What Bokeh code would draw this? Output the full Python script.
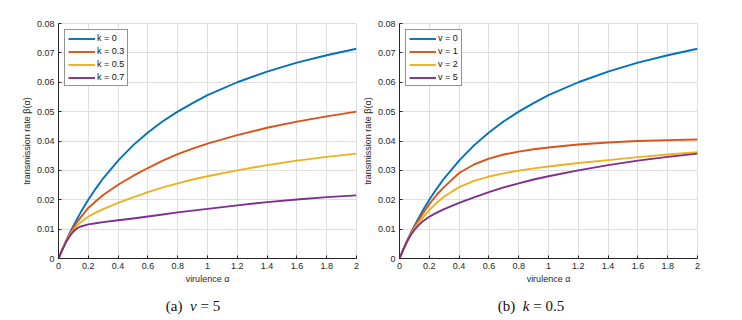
from bokeh.plotting import figure
from bokeh.models import Range1d, Legend, LegendItem, FixedTicker, Div
from bokeh.layouts import row, column
from bokeh.embed import file_html
from bokeh.resources import INLINE

# ---- data ----
alpha = [0, 0.025, 0.05, 0.075, 0.1, 0.125, 0.15, 0.2, 0.25, 0.3, 0.4, 0.5,
         0.6, 0.7, 0.8, 0.9, 1.0, 1.2, 1.4, 1.6, 1.8, 2.0]

# panel (a): v = 5
k_labels = ["k = 0", "k = 0.3", "k = 0.5", "k = 0.7"]
beta_k0 = [0, 0.0030, 0.0059, 0.0086, 0.0111, 0.0135, 0.0158, 0.0200, 0.0238, 0.0273, 0.0333, 0.0385,
           0.0429, 0.0467, 0.0500, 0.0529, 0.0556, 0.0600, 0.0636, 0.0667, 0.0692, 0.0714]
beta_k03 = [0, 0.0030, 0.0058, 0.0083, 0.0105, 0.0124, 0.0141, 0.0172, 0.0195, 0.0216, 0.0251, 0.0281,
            0.0308, 0.0333, 0.0355, 0.0374, 0.0391, 0.0420, 0.0445, 0.0466, 0.0484, 0.0500]
beta_k05 = [0, 0.0030, 0.0057, 0.0079, 0.0097, 0.0112, 0.0124, 0.0142, 0.0156, 0.0168, 0.0189, 0.0208,
            0.0226, 0.0242, 0.0256, 0.0269, 0.0280, 0.0300, 0.0318, 0.0333, 0.0346, 0.0357]
beta_k07 = [0, 0.0029, 0.0055, 0.0076, 0.0092, 0.0103, 0.0109, 0.0116, 0.0120, 0.0124, 0.0130, 0.0136,
            0.0143, 0.0150, 0.0157, 0.0163, 0.0169, 0.0181, 0.0192, 0.0201, 0.0209, 0.0215]

# panel (b): k = 0.5
v_labels = ["v = 0", "v = 1", "v = 2", "v = 5"]
beta_v0 = [0, 0.0030, 0.0059, 0.0086, 0.0111, 0.0135, 0.0158, 0.0200, 0.0238, 0.0273, 0.0333, 0.0385,
           0.0429, 0.0467, 0.0500, 0.0529, 0.0556, 0.0600, 0.0636, 0.0667, 0.0692, 0.0714]
beta_v1 = [0, 0.0030, 0.0059, 0.0084, 0.0107, 0.0128, 0.0148, 0.0185, 0.0217, 0.0244, 0.0291, 0.0320,
           0.0340, 0.0354, 0.0364, 0.0372, 0.0378, 0.0388, 0.0395, 0.0400, 0.0403, 0.0405]
beta_v2 = [0, 0.0030, 0.0058, 0.0081, 0.0101, 0.0120, 0.0136, 0.0165, 0.0190, 0.0211, 0.0243, 0.0264,
           0.0279, 0.0290, 0.0299, 0.0307, 0.0313, 0.0325, 0.0335, 0.0345, 0.0354, 0.0362]
beta_v5 = [0, 0.0030, 0.0057, 0.0079, 0.0097, 0.0112, 0.0124, 0.0142, 0.0156, 0.0168, 0.0189, 0.0208,
           0.0226, 0.0242, 0.0256, 0.0269, 0.0280, 0.0300, 0.0318, 0.0333, 0.0346, 0.0357]

x_ticks = [0, 0.2, 0.4, 0.6, 0.8, 1.0, 1.2, 1.4, 1.6, 1.8, 2.0]
x_tick_labels = ["0", "0.2", "0.4", "0.6", "0.8", "1", "1.2", "1.4", "1.6", "1.8", "2"]
y_ticks = [0, 0.01, 0.02, 0.03, 0.04, 0.05, 0.06, 0.07, 0.08]
y_tick_labels = ["0", "0.01", "0.02", "0.03", "0.04", "0.05", "0.06", "0.07", "0.08"]

colors = ["#0072BD", "#D95319", "#EDB120", "#7E2F8E"]
FONT = "Liberation Sans"
AX = "#262626"


def make_panel(series, labels, left, right):
    p = figure(frame_width=298, frame_height=235, output_backend="svg", toolbar_location=None,
               x_range=Range1d(0, 2), y_range=Range1d(0, 0.08),
               min_border_left=left, min_border_right=right,
               min_border_top=23, min_border_bottom=32)
    p.outline_line_color = "#dcdcdc"
    p.background_fill_color = "white"
    p.border_fill_color = "white"
    for ax in (p.xaxis[0], p.yaxis[0]):
        ax.axis_line_color = AX
        ax.major_tick_line_color = AX
        ax.major_tick_in = 3
        ax.major_tick_out = 0
        ax.minor_tick_line_color = None
        ax.major_label_text_font = FONT
        ax.major_label_text_font_size = "9px"
        ax.major_label_text_color = AX
        ax.axis_label_text_font = FONT
        ax.axis_label_text_font_size = "9px"
        ax.axis_label_text_font_style = "normal"
        ax.axis_label_text_color = AX
        ax.major_label_standoff = 4
        ax.axis_label_standoff = 2
    p.xaxis.ticker = FixedTicker(ticks=x_ticks)
    p.yaxis.ticker = FixedTicker(ticks=y_ticks)
    p.xaxis.major_label_overrides = {t: s for t, s in zip(x_ticks, x_tick_labels)}
    p.yaxis.major_label_overrides = {t: s for t, s in zip(y_ticks, y_tick_labels)}
    p.xaxis.axis_label = "virulence α"
    p.yaxis.axis_label = "transmission rate β(α)"
    p.grid.grid_line_color = "#dedede"
    p.grid.grid_line_width = 1

    items = []
    for ys, lab, c in zip(series, labels, colors):
        r = p.line(alpha, ys, line_color=c, line_width=1.9, line_join="round")
        items.append(LegendItem(label=lab, renderers=[r]))
    leg = Legend(items=items, location="top_left")
    leg.margin = 6
    leg.padding = 3
    leg.spacing = 3
    leg.glyph_width = 27
    leg.glyph_height = 9
    leg.label_height = 9
    leg.label_standoff = 2
    leg.label_text_font = FONT
    leg.label_text_font_size = "9px"
    leg.label_text_color = "#111111"
    leg.border_line_color = AX
    leg.border_line_width = 1
    leg.background_fill_alpha = 1
    p.add_layout(leg)
    return p


p1 = make_panel([beta_k0, beta_k03, beta_k05, beta_k07], k_labels, 58, 3)
p2 = make_panel([beta_v0, beta_v1, beta_v2, beta_v5], v_labels, 37, 45)

span = ("position:absolute;top:1px;transform:translateX(-50%);white-space:nowrap;"
        "font-family:'Liberation Serif';font-size:15px;color:#111;")
captions = Div(
    text=(f'<div style="position:relative;width:734px;height:24px;">'
          f'<span style="{span}left:188px;">(a)&nbsp;&nbsp;<i>v</i> = 5</span>'
          f'<span style="{span}left:526px;">(b)&nbsp;&nbsp;<i>k</i> = 0.5</span>'
          f'</div>'),
    width=734, height=24)

layout = column(row(p1, p2, spacing=0), captions, spacing=0)

open("out.html", "w").write(file_html(layout, INLINE))
